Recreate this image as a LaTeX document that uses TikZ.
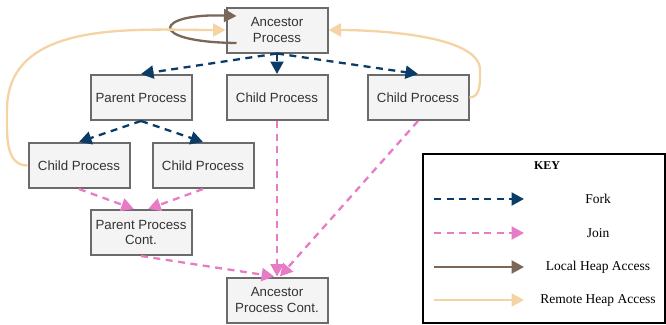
\documentclass[tikz,border=0pt]{standalone}
\usepackage{fontspec}
\setmainfont{Liberation Serif}
\setsansfont{Liberation Sans}
\usetikzlibrary{arrows.meta,calc}
\definecolor{forkblue}{HTML}{0B3C68}
\definecolor{joinpink}{HTML}{E77BC5}
\definecolor{localbrown}{HTML}{7A6757}
\definecolor{remotetan}{HTML}{F5D3A3}
\definecolor{boxfill}{HTML}{F4F4F4}
\definecolor{boxline}{HTML}{6B6B6B}
\begin{document}
\begin{tikzpicture}[x=1pt,y=-1pt,
    proc/.style={draw=boxline, fill=boxfill, line width=2pt, minimum width=101pt, minimum height=45pt,
      inner sep=2pt, align=center, text=black!80, font=\sffamily\fontsize{13.3}{15.5}\selectfont},
    tip/.style={-{Triangle[length=12.5pt,width=13pt]}},
    forkarrow/.style={tip, forkblue, line width=2.3pt, dash pattern=on 7pt off 5.5pt},
    joinarrow/.style={tip, joinpink, line width=2.3pt, dash pattern=on 7pt off 5.5pt},
    localheap/.style={tip, localbrown, line width=2.3pt},
    remoteheap/.style={tip, remotetan, line width=2.3pt},
    keytext/.style={font=\fontsize{13.5}{15}\selectfont}]

    \useasboundingbox (0,0) rectangle (666,324);

    \node[proc] (anc) at (277,30) {Ancestor\\Process};
    \node[proc] (parent) at (141,97.5) {Parent Process};
    \node[proc] (midchild) at (277,97.5) {Child Process};
    \node[proc] (rightchild) at (418,97.5) {Child Process};
    \node[proc] (leftchild) at (79,165.5) {Child Process};
    \node[proc] (subchild) at (203,165.5) {Child Process};
    \node[proc] (pcont) at (141,232.5) {Parent Process\\Cont.};
    \node[proc] (acont) at (277,300) {Ancestor\\Process Cont.};

    % forks
    \draw[forkarrow] (anc.south) -- (parent.north);
    \draw[forkarrow] (anc.south) -- (midchild.north);
    \draw[forkarrow] (anc.south) -- (rightchild.north);
    \draw[forkarrow] (parent.south) -- (leftchild.north);
    \draw[forkarrow] (parent.south) -- (subchild.north);

    % joins
    \draw[joinarrow] (leftchild.south) -- (pcont.107);
    \draw[joinarrow] (subchild.south) -- (pcont.73);
    \draw[joinarrow] (pcont.south) -- (acont.97);
    \draw[joinarrow] (midchild.south) -- (acont.north);
    \draw[joinarrow] (rightchild.south) -- (acont.83);

    % heap access
    \draw[localheap] ($(anc.west)+(11,13)$) .. controls (145,42) and (155,13) .. ($(anc.west)+(11,-14)$);
    \draw[remoteheap] (leftchild.west) to[out=180,in=270] (7,110) to[out=90,in=180] (anc.west);
    \draw[remoteheap] (rightchild.east) to[out=0,in=270] (480,70) to[out=90,in=0,looseness=0.6] (anc.east);

    % key
    \draw[line width=2pt] (423,154) rectangle (665,323);
    \node[keytext, font=\bfseries\fontsize{12}{14}\selectfont] (keytitle) at (547,166) {KEY};
    \coordinate (forka) at (434,199);  \coordinate (forkb) at (524,199);
    \coordinate (joina) at (434,233);  \coordinate (joinb) at (524,233);
    \coordinate (locala) at (434,267); \coordinate (localb) at (524,267);
    \coordinate (remotea) at (434,300); \coordinate (remoteb) at (524,300);
    \draw[forkarrow] (forka) -- (forkb);
    \draw[joinarrow] (joina) -- (joinb);
    \draw[localheap] (locala) -- (localb);
    \draw[remoteheap] (remotea) -- (remoteb);
    \node[keytext] (forklabel) at (598,199) {Fork};
    \node[keytext] (joinlabel) at (598,233) {Join};
    \node[keytext] (locallabel) at (598,267) {Local Heap Access};
    \node[keytext] (remotelabel) at (598,300) {Remote Heap Access};

  \end{tikzpicture}
\end{document}
